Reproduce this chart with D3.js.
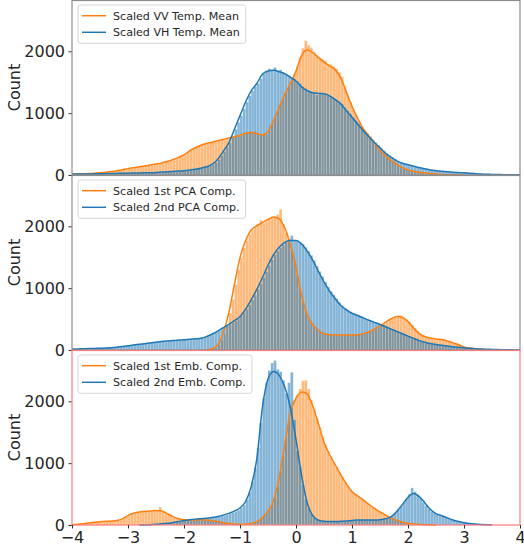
<!DOCTYPE html>
<html>
<head>
<meta charset="utf-8">
<script src="https://cdn.jsdelivr.net/npm/d3@7"></script>
<style>
  body { margin: 0; background: #fff; }
  text { font-family: "DejaVu Sans", sans-serif; fill: #262626; }
</style>
</head>
<body>
<div id="chart_div"></div>
<script>
// histogram bins are 0.05 wide and start at -4, kde samples every 0.1
var binStart = -4;
var binWidth = 0.05;
var kdeStep = 0.1;

var xTicks = [-4, -3, -2, -1, 0, 1, 2, 3, 4];
var yTicks = [0, 1000, 2000];

var legendLabels = [
  ["Scaled VV Temp. Mean", "Scaled VH Temp. Mean"],
  ["Scaled 1st PCA Comp.", "Scaled 2nd PCA Comp."],
  ["Scaled 1st Emb. Comp.", "Scaled 2nd Emb. Comp."]
];

// ---- panel 1 : temporal means ----
var vvCounts = [
  15, 16, 17, 19, 20, 22, 24, 26, 30, 34,
  37, 41, 46, 50, 56, 62, 70, 77, 86, 96,
  104, 110, 118, 126, 133, 140, 147, 154, 162, 170,
  182, 192, 202, 212, 228, 240, 260, 275, 300, 315,
  340, 370, 400, 425, 450, 470, 485, 500, 515, 525,
  530, 540, 552, 565, 572, 585, 595, 610, 620, 630,
  640, 650, 668, 690, 688, 700, 672, 660, 648, 650,
  740, 830, 930, 1040, 1150, 1250, 1350, 1435, 1530, 1630,
  1760, 1900, 2050, 2170, 2100, 2060, 1990, 1940, 1900, 1870,
  1850, 1800, 1790, 1760, 1720, 1660, 1590, 1430, 1290, 1180,
  1060, 970, 880, 790, 720, 665, 605, 550, 490, 430,
  375, 330, 290, 255, 220, 190, 160, 135, 110, 92,
  78, 68, 58, 50, 42, 36, 30, 26, 22, 18,
  15, 12, 8, 6, 5, 4, 3, 2, 2, 1
];
var vhCounts = [
  14, 14, 15, 15, 16, 16, 17, 18, 19, 20,
  20, 21, 22, 23, 24, 25, 26, 27, 28, 29,
  30, 31, 32, 33, 34, 35, 36, 37, 38, 40,
  42, 44, 47, 49, 52, 55, 58, 61, 64, 67,
  70, 75, 80, 86, 92, 100, 110, 120, 133, 150,
  170, 205, 250, 310, 380, 450, 520, 620, 740, 850,
  960, 1070, 1180, 1280, 1360, 1430, 1480, 1560, 1640, 1690,
  1720, 1700, 1740, 1680, 1700, 1660, 1640, 1610, 1580, 1550,
  1520, 1480, 1430, 1400, 1370, 1350, 1330, 1300, 1330, 1310,
  1320, 1300, 1280, 1250, 1220, 1190, 1150, 1100, 1040, 990,
  935, 880, 825, 770, 720, 670, 620, 570, 525, 480,
  440, 395, 350, 315, 285, 255, 228, 208, 190, 178,
  165, 152, 140, 130, 120, 110, 100, 90, 82, 76,
  70, 65, 60, 56, 52, 48, 45, 42, 40, 37,
  35, 31, 28, 25, 22, 19, 17, 15, 13, 11,
  10, 9, 8, 7, 6, 5, 5, 4, 3, 3
];
var vvKdeStart = -4;
var vvKde = [
  16, 18, 21, 25, 30, 37, 45, 55, 68, 85,
  103, 118, 132, 146, 161, 178, 196, 218, 248, 285,
  325, 390, 440, 480, 510, 530, 555, 575, 598, 620,
  640, 670, 688, 670, 648, 700, 880, 1090, 1300, 1480,
  1680, 1930, 2020, 1980, 1900, 1825, 1765, 1700, 1570, 1340,
  1110, 920, 750, 635, 520, 395, 310, 235, 175, 120,
  82, 60, 44, 32, 24, 15, 8, 5, 3, 2, 1
];
var vhKdeStart = -4;
var vhKde = [
  14, 15, 16, 17, 19, 20, 22, 24, 26, 28,
  30, 32, 34, 36, 38, 42, 47, 52, 58, 64,
  70, 80, 92, 110, 133, 170, 250, 380, 520, 740,
  960, 1180, 1360, 1480, 1630, 1680, 1693, 1670, 1635, 1580,
  1520, 1425, 1365, 1330, 1320, 1315, 1280, 1220, 1150, 1040,
  935, 825, 720, 620, 525, 440, 350, 285, 228, 190,
  165, 140, 120, 100, 82, 70, 60, 52, 45, 40,
  35, 28, 22, 17, 13, 10, 8, 6, 5, 4, 3
];

// ---- panel 2 : PCA components ----
var pca1Counts = [
  0, 0, 0, 0, 0, 0, 0, 0, 0, 0,
  0, 0, 0, 0, 0, 0, 0, 0, 0, 0,
  0, 0, 0, 0, 0, 0, 0, 0, 0, 0,
  0, 0, 0, 0, 0, 0, 0, 0, 0, 0,
  0, 0, 0, 0, 0, 0, 0, 0, 4, 10,
  20, 40, 80, 150, 260, 400, 600, 820, 1060, 1300,
  1490, 1650, 1770, 1870, 1940, 1990, 2040, 2100, 2050, 2080,
  2130, 2160, 2150, 2190, 2276, 2030, 1900, 1790, 1630, 1450,
  1220, 1010, 790, 640, 540, 450, 395, 340, 305, 280,
  265, 250, 252, 240, 246, 238, 250, 236, 244, 240,
  243, 245, 248, 255, 265, 278, 292, 312, 335, 362,
  395, 425, 450, 488, 510, 530, 555, 560, 520, 495,
  460, 410, 355, 305, 265, 240, 215, 205, 195, 188,
  180, 175, 168, 158, 148, 132, 115, 100, 85, 68,
  50, 40, 32, 26, 20, 15, 12, 8, 6, 4
];
var pca2Counts = [
  16, 17, 18, 19, 20, 22, 24, 25, 27, 28,
  30, 32, 34, 36, 40, 43, 50, 53, 60, 65,
  72, 78, 85, 90, 96, 100, 108, 112, 118, 122,
  128, 134, 138, 142, 146, 150, 154, 158, 160, 164,
  168, 172, 176, 180, 184, 188, 200, 212, 232, 250,
  270, 290, 310, 335, 360, 390, 415, 445, 475, 510,
  560, 610, 660, 730, 810, 890, 980, 1070, 1170, 1270,
  1370, 1460, 1540, 1600, 1660, 1700, 1740, 1790, 1850, 1780,
  1770, 1745, 1715, 1660, 1600, 1530, 1450, 1360, 1270, 1190,
  1100, 1020, 950, 890, 830, 770, 720, 680, 650, 620,
  595, 575, 558, 540, 520, 500, 482, 465, 447, 430,
  412, 395, 375, 356, 337, 318, 300, 282, 262, 244,
  225, 206, 188, 170, 152, 138, 125, 114, 104, 96,
  88, 81, 75, 70, 64, 58, 53, 48, 44, 40,
  36, 32, 28, 25, 22, 19, 17, 15, 13, 11,
  10, 8, 7, 6, 5, 4, 3, 2, 2, 1
];
var pca1KdeStart = -1.6;
var pca1Kde = [
  3, 20, 80, 280, 600, 1060, 1490, 1770, 1940, 2010,
  2060, 2110, 2150, 2120, 1974, 1707, 1346, 885, 569, 410,
  320, 262, 248, 244, 242, 242, 243, 248, 265, 292,
  335, 390, 450, 505, 542, 525, 460, 355, 265, 215,
  195, 180, 168, 148, 115, 85, 50, 32, 20, 12,
  6, 3
];
var pca2KdeStart = -4;
var pca2Kde = [
  16, 18, 20, 23, 26, 29, 33, 38, 46, 56,
  68, 81, 92, 103, 114, 126, 137, 145, 152, 160,
  166, 173, 181, 191, 217, 258, 305, 360, 415, 475,
  542, 660, 810, 980, 1170, 1370, 1540, 1660, 1740, 1770,
  1770, 1715, 1600, 1450, 1270, 1100, 950, 830, 720, 650,
  595, 558, 520, 482, 447, 412, 375, 337, 300, 262,
  225, 188, 152, 125, 104, 88, 75, 64, 53, 44,
  36, 28, 22, 17, 13, 10, 7, 5, 3, 2, 1
];

// ---- panel 3 : embedding components ----
var emb1Counts = [
  3, 8, 14, 20, 27, 33, 39, 45, 50, 54,
  55, 58, 60, 62, 64, 66, 70, 80, 100, 130,
  155, 175, 190, 200, 210, 215, 220, 222, 225, 230,
  240, 290, 220, 200, 170, 150, 125, 108, 95, 88,
  85, 80, 80, 82, 84, 85, 84, 82, 78, 72,
  68, 60, 52, 45, 38, 32, 26, 22, 18, 15,
  14, 14, 15, 18, 25, 45, 65, 95, 135, 180,
  250, 330, 450, 620, 860, 1120, 1420, 1700, 1900, 2020,
  2100, 2200, 2330, 2340, 2200, 2020, 1870, 1720, 1580, 1420,
  1300, 1190, 1100, 1020, 935, 850, 775, 700, 630, 570,
  520, 490, 455, 420, 390, 355, 320, 285, 255, 225,
  195, 170, 148, 125, 105, 85, 70, 55, 40, 32,
  24, 18, 13, 10, 8, 6, 4, 3, 2, 1
];
var emb2Counts = [
  0, 0, 0, 0, 0, 0, 0, 0, 0, 0,
  0, 0, 0, 0, 0, 0, 0, 0, 0, 0,
  0, 0, 0, 0, 0, 1, 3, 5, 8, 11,
  14, 18, 22, 27, 32, 40, 48, 56, 64, 70,
  76, 82, 88, 93, 98, 102, 105, 108, 112, 116,
  122, 130, 136, 145, 155, 168, 180, 196, 215, 240,
  275, 320, 410, 530, 700, 920, 1250, 1650, 2050, 2300,
  2500, 2620, 2660, 2520, 2480, 2340, 2130, 2300, 2470, 1700,
  1200, 950, 650, 420, 270, 180, 120, 90, 70, 62,
  58, 56, 55, 54, 55, 56, 58, 62, 65, 68,
  72, 76, 80, 82, 82, 83, 82, 82, 83, 84,
  88, 95, 110, 125, 160, 195, 250, 300, 360, 420,
  500, 600, 540, 490, 430, 370, 310, 260, 220, 195,
  180, 165, 150, 135, 115, 95, 80, 65, 55, 46,
  38, 30, 25, 20, 16, 12, 9, 7, 5, 3
];
var emb1KdeStart = -4;
var emb1Kde = [
  5, 12, 22, 33, 44, 53, 60, 65, 72, 100,
  155, 190, 212, 220, 226, 235, 225, 185, 135, 100,
  85, 80, 82, 84, 80, 70, 55, 38, 25, 18,
  14, 14, 25, 55, 115, 220, 400, 770, 1300, 1820,
  2050, 2150, 2120, 1920, 1640, 1340, 1140, 975, 810, 665,
  537, 470, 405, 335, 268, 210, 160, 112, 75, 45,
  28, 16, 10, 6, 3, 1
];
var emb2KdeStart = -2.8;
var emb2Kde = [
  0, 2, 6, 12, 20, 27, 40, 55, 72, 85,
  95, 102, 108, 120, 138, 160, 188, 225, 275, 380,
  620, 1075, 1900, 2360, 2484, 2420, 2230, 1900, 1380, 800,
  360, 150, 78, 60, 55, 55, 60, 66, 73, 80,
  82, 82, 82, 85, 100, 135, 220, 330, 450, 510,
  460, 360, 250, 185, 150, 115, 80, 55, 38, 25,
  16, 10, 6, 3
];

var panels = [
  { first: vvCounts, second: vhCounts, firstKde: vvKde, firstKdeStart: vvKdeStart,
    secondKde: vhKde, secondKdeStart: vhKdeStart, labels: legendLabels[0], frame: "#8c8c8c" },
  { first: pca1Counts, second: pca2Counts, firstKde: pca1Kde, firstKdeStart: pca1KdeStart,
    secondKde: pca2Kde, secondKdeStart: pca2KdeStart, labels: legendLabels[1], frame: "#8c8c8c" },
  { first: emb1Counts, second: emb2Counts, firstKde: emb1Kde, firstKdeStart: emb1KdeStart,
    secondKde: emb2Kde, secondKdeStart: emb2KdeStart, labels: legendLabels[2], frame: "#ff7b7b" }
];

var orange = "#ff7f0e",
  blue = "#1f77b4";

// set the dimensions and margins of the graph
var margin = { top: 0, right: 4, bottom: 25, left: 72 },
  width = 524 - margin.left - margin.right,
  panelHeight = 175;

var svg = d3
  .select("#chart_div")
  .append("svg")
  .attr("width", 524)
  .attr("height", 550)
  .append("g")
  .attr("transform", "translate(" + margin.left + "," + margin.top + ")");

var x = d3.scaleLinear().domain([-4, 4]).range([0, width]);

panels.forEach(function(p, k) {
  var g = svg.append("g").attr("transform", "translate(0," + k * panelHeight + ")");

  var y = d3.scaleLinear().domain([0, 2830]).range([panelHeight, 0]);

  // bars, orange first so blue sits on top
  [[p.first, orange], [p.second, blue]].forEach(function(s) {
    g.append("g")
      .selectAll("rect")
      .data(s[0].map(function(v, i) { return { x0: binStart + i * binWidth, v: v }; })
        .filter(function(d) { return d.v > 0; }))
      .enter()
      .append("rect")
      .attr("x", function(d) { return x(d.x0); })
      .attr("width", function(d) { return x(d.x0 + binWidth) - x(d.x0); })
      .attr("y", function(d) { return y(d.v); })
      .attr("height", function(d) { return y(0) - y(d.v); })
      .attr("fill", s[1])
      .attr("fill-opacity", 0.55)
      .attr("stroke", "#fff")
      .attr("stroke-opacity", 0.45)
      .attr("stroke-width", 0.35);
  });

  // kde curves
  var line = function(start) {
    return d3.line()
      .x(function(d, i) { return x(start + i * kdeStep); })
      .y(function(d) { return y(d); })
      .curve(d3.curveMonotoneX);
  };
  g.append("path")
    .attr("d", line(p.firstKdeStart)(p.firstKde))
    .attr("fill", "none")
    .attr("stroke", orange)
    .attr("stroke-width", 1.5);
  g.append("path")
    .attr("d", line(p.secondKdeStart)(p.secondKde))
    .attr("fill", "none")
    .attr("stroke", blue)
    .attr("stroke-width", 1.5);

  // y axis
  var ya = g.append("g")
    .call(d3.axisLeft(y).tickValues(yTicks).tickSize(3.5).tickPadding(3.5).tickFormat(d3.format("d")));
  ya.select(".domain").remove();
  ya.selectAll("line").attr("stroke", "#333");
  ya.selectAll("text").attr("font-size", "16px").attr("font-family", "DejaVu Sans").attr("fill", "#262626");

  g.append("text")
    .attr("transform", "translate(-52," + panelHeight / 2 + ") rotate(-90)")
    .attr("text-anchor", "middle")
    .attr("font-size", "16px")
    .text("Count");

  // frame
  g.append("rect")
    .attr("x", 0)
    .attr("y", 0.5)
    .attr("width", width)
    .attr("height", panelHeight - 0.5)
    .attr("fill", "none")
    .attr("stroke", p.frame)
    .attr("stroke-width", 1.2);

  // legend
  var lg = g.append("g").attr("transform", "translate(6,5)");
  var box = lg.append("rect")
    .attr("height", 38.3)
    .attr("rx", 2.5)
    .attr("fill", "#fff")
    .attr("fill-opacity", 0.8)
    .attr("stroke", "#d6d6d6");
  var maxW = 0;
  [orange, blue].forEach(function(c, i) {
    var yy = 10.7 + i * 16.6;
    lg.append("line")
      .attr("x1", 4).attr("x2", 28)
      .attr("y1", yy).attr("y2", yy)
      .attr("stroke", c)
      .attr("stroke-width", 1.5);
    var t = lg.append("text")
      .attr("x", 35)
      .attr("y", yy)
      .attr("dy", "0.36em")
      .attr("font-size", "11.1px")
      .text(p.labels[i]);
    maxW = Math.max(maxW, t.node().getComputedTextLength());
  });
  box.attr("width", 35 + maxW + 6);
});

// x axis under the last panel
var xa = svg.append("g")
  .attr("transform", "translate(0," + 3 * panelHeight + ")")
  .call(d3.axisBottom(x).tickValues(xTicks).tickSize(3.5).tickPadding(3.5));
xa.select(".domain").remove();
xa.selectAll("line").attr("stroke", "#333");
xa.selectAll("text").attr("font-size", "16px").attr("font-family", "DejaVu Sans").attr("fill", "#262626");
</script>
</body>
</html>
